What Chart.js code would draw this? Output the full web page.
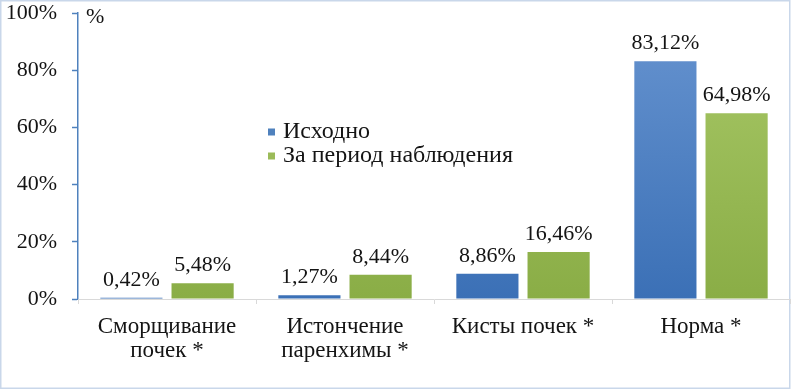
<!DOCTYPE html>
<html><head><meta charset="utf-8">
<script src="https://cdn.jsdelivr.net/npm/chart.js@4/dist/chart.umd.min.js"></script>
<style>html,body{margin:0;padding:0;background:#fff}#wrap{width:793px;height:391px;position:relative}</style>
</head><body><div id="wrap"><canvas id="c" width="793" height="391"></canvas></div>
<script>
const categories = [['Сморщивание','почек *'], ['Истончение','паренхимы *'], 'Кисты почек *', 'Норма *'];
const seriesNames = ['Исходно', 'За период наблюдения'];
const initialValues = [0.42, 1.27, 8.86, 83.12];
const followValues = [5.48, 8.44, 16.46, 64.98];
const yTickValues = [0, 20, 40, 60, 80, 100];
const axisUnit = '%';

const FONT = "'Liberation Serif', serif";
function grad(ctx, top, bottom) {
  const ch = ctx.chart, a = ch.chartArea;
  if (!a) return bottom;
  const g = ch.ctx.createLinearGradient(0, a.top, 0, a.bottom);
  g.addColorStop(0, top); g.addColorStop(1, bottom);
  return g;
}
const fmt = v => v.toFixed(2).replace('.', ',') + '%';

const decor = {
  id: 'decor',
  beforeDraw(chart) {
    const c = chart.ctx;
    c.save(); c.fillStyle = '#fff'; c.fillRect(0, 0, chart.width, chart.height);
    c.strokeStyle = '#c9d7ea'; c.lineWidth = 1.5;
    c.strokeRect(0.75, 0.75, 789, 387.5);
    c.restore();
  },
  afterDatasetsDraw(chart) {
    const c = chart.ctx, a = chart.chartArea;
    c.save();
    c.font = '22px ' + FONT; c.fillStyle = '#141414';
    c.textAlign = 'center'; c.textBaseline = 'alphabetic';
    chart.data.datasets.forEach((ds, i) => {
      chart.getDatasetMeta(i).data.forEach((bar, j) => {
        c.fillText(fmt(ds.data[j]), bar.x, bar.y - 12);
      });
    });
    c.textAlign = 'left';
    c.fillText(axisUnit, a.left + 8, a.top + 10);
    c.font = '24px ' + FONT;
    const cols = ['#4f81bd', '#9bbb59'];
    seriesNames.forEach((n, i) => {
      const y = 132 + i * 24;
      c.fillStyle = cols[i];
      c.fillRect(268, y - 3.5, 7, 7);
      c.fillStyle = '#141414';
      c.textBaseline = 'middle';
      c.fillText(n, 283, y);
    });
    c.restore();
  }
};

new Chart(document.getElementById('c'), {
  type: 'bar',
  data: {
    labels: categories,
    datasets: [
      { label: seriesNames[0], data: initialValues,
        backgroundColor: ctx => grad(ctx, '#6794d0', '#3b70b6') },
      { label: seriesNames[1], data: followValues,
        backgroundColor: ctx => grad(ctx, '#a9c968', '#8aad46') }
    ]
  },
  options: {
    responsive: false, animation: false,
    layout: { padding: { left: 6, right: 3, top: 0, bottom: 0 } },
    categoryPercentage: 0.8, barPercentage: 0.873,
    plugins: { legend: { display: false }, tooltip: { enabled: false } },
    scales: {
      y: {
        min: 0, max: 100,
        afterBuildTicks: s => { s.ticks = yTickValues.map(v => ({ value: v })); },
        afterFit: s => { s.width = 72; s.paddingTop = 13; s.paddingBottom = 0; },
        ticks: { callback: v => v + '%', font: { family: FONT, size: 22 }, color: '#141414', padding: 15 },
        grid: { drawOnChartArea: false, tickLength: 6, tickColor: '#4f81bd', tickWidth: 1.5 },
        border: { color: '#4f81bd', width: 1.5 }
      },
      x: {
        afterFit: s => { s.height = 92; s.paddingLeft = 0; s.paddingRight = 0; },
        ticks: { font: { family: FONT, size: 23, lineHeight: 1.05 }, color: '#141414', padding: 11, maxRotation: 0, autoSkip: false },
        grid: { offset: true, drawOnChartArea: false, tickLength: 5, color: '#d9d9d9' },
        border: { color: '#d9d9d9' }
      }
    }
  },
  plugins: [decor]
});
</script></body></html>
